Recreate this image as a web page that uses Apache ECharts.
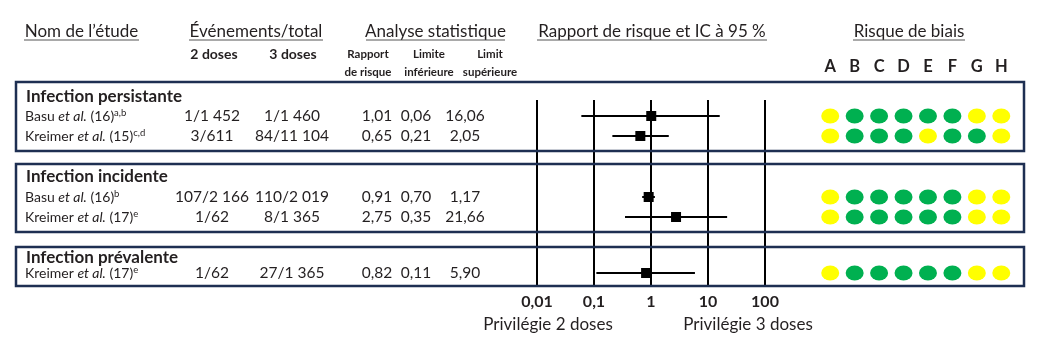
<!DOCTYPE html>
<html><head><meta charset="utf-8">
<script src="https://cdn.jsdelivr.net/npm/echarts@6/dist/echarts.min.js"></script>
<style>html,body{margin:0;padding:0;background:#fff}#c{width:1042px;height:340px}</style>
</head><body><div id="c"></div>
<script>
// ---------- DATA ----------
const groups = ['Infection persistante', 'Infection incidente', 'Infection prévalente'];
const studyGroup = [0, 0, 1, 1, 2];
const studyAuthor = ['Basu', 'Kreimer', 'Basu', 'Kreimer', 'Kreimer'];
const studyRef = ['(16)', '(15)', '(16)', '(17)', '(17)'];
const studyNote = ['a,b', 'c,d', 'b', 'e', 'e'];
const events2 = ['1/1 452', '3/611', '107/2 166', '1/62', '1/62'];
const events3 = ['1/1 460', '84/11 104', '110/2 019', '8/1 365', '27/1 365'];
const rr = [1.01, 0.65, 0.91, 2.75, 0.82];
const lower = [0.06, 0.21, 0.70, 0.35, 0.11];
const upper = [16.06, 2.05, 1.17, 21.66, 5.90];
const domains = ['A', 'B', 'C', 'D', 'E', 'F', 'G', 'H'];
const bias = [
  ['Y', 'G', 'G', 'G', 'G', 'G', 'Y', 'Y'],
  ['Y', 'G', 'G', 'G', 'Y', 'G', 'G', 'Y'],
  ['Y', 'G', 'G', 'G', 'G', 'G', 'Y', 'Y'],
  ['Y', 'G', 'G', 'G', 'G', 'G', 'Y', 'Y'],
  ['Y', 'G', 'G', 'G', 'G', 'G', 'Y', 'Y']
];
const tickValues = [0.01, 0.1, 1, 10, 100];
const tickLabels = ['0,01', '0,1', '1', '10', '100'];

// ---------- LAYOUT (positions only) ----------
const rowY = [116, 136, 197, 217, 273];
const groupY = [97, 177, 258];
const boxes = [[16, 82, 1008, 69], [16, 164, 1008, 68], [16, 247, 1008, 39]];
const PLOT_TOP = 100, PLOT_BOTTOM = 286;
const col = { name: 25, e2: 212, e3: 292, rr: 377, lo: 416, hi: 465 };
const TXT = '#231F20', NAVY = '#1E2F52';
const FONT = 'Lato, "Noto Sans", sans-serif';
const colorMap = { Y: '#FFFF00', G: '#00B050' };
const fmt = v => v.toFixed(2).replace('.', ',');

const chart = echarts.init(document.getElementById('c'), null, { renderer: 'canvas' });

const graphics = [];
// boxes
boxes.forEach(b => graphics.push({
  type: 'rect', shape: { x: b[0], y: b[1], width: b[2], height: b[3] }, z: 5,
  style: { fill: 'none', stroke: NAVY, lineWidth: 2.5 }
}));
// titles with underline
const titles = [
  ['Nom de l’étude', 24, 139], ['Événements/total', 189, 323], ['Analyse statistique', 366, 505],
  ['Rapport de risque et IC à 95 %', 537, 767], ['Risque de biais', 853, 965]
];
titles.forEach(t => {
  graphics.push({ type: 'text', x: (t[1] + t[2]) / 2, y: 32, style: { text: t[0], fill: TXT, font: '17px ' + FONT, textAlign: 'center', textVerticalAlign: 'middle' } });
  graphics.push({ type: 'line', shape: { x1: t[1], y1: 40, x2: t[2], y2: 40 }, style: { stroke: '#555', lineWidth: 1 } });
});
// sub headers
const sub = (txt, x, y, size) => graphics.push({ type: 'text', x, y, style: { text: txt, fill: TXT, font: 'bold ' + size + 'px ' + FONT, textAlign: 'center', textVerticalAlign: 'middle' } });
sub('2 doses', col.e2 + 2, 54, 14); sub('3 doses', col.e3 + 1, 54, 14);
sub('Rapport', 368, 54, 11.5); sub('de risque', 368, 72, 11.5);
sub('Limite', 429, 54, 11.5); sub('inférieure', 429, 72, 11.5);
sub('Limit', 490, 54, 11.5); sub('supérieure', 490, 72, 11.5);
// group headings
groups.forEach((g, i) => graphics.push({ type: 'text', x: col.name + 1, y: groupY[i], style: { text: g, fill: TXT, font: 'bold 17px ' + FONT, textVerticalAlign: 'middle' } }));
// study rows
rowY.forEach((y, i) => {
  graphics.push({ type: 'text', x: col.name, y, style: {
    text: '{n|' + studyAuthor[i] + ' }{i|et al.}{n| ' + studyRef[i] + '}{s|' + studyNote[i] + '}',
    textVerticalAlign: 'middle',
    rich: {
      n: { fill: TXT, font: '14px ' + FONT },
      i: { fill: TXT, font: 'italic 14px ' + FONT },
      s: { fill: TXT, font: '9.5px ' + FONT, padding: [0, 0, 7, 0] }
    }
  } });
  const cell = (txt, x) => graphics.push({ type: 'text', x, y, style: { text: txt, fill: TXT, font: '15.5px ' + FONT, textAlign: 'center', textVerticalAlign: 'middle' } });
  cell(events2[i], col.e2); cell(events3[i], col.e3);
  cell(fmt(rr[i]), col.rr); cell(fmt(lower[i]), col.lo); cell(fmt(upper[i]), col.hi);
});
// footer
graphics.push({ type: 'text', x: 548, y: 325, style: { text: 'Privilégie 2 doses', fill: TXT, font: '17px ' + FONT, textAlign: 'center', textVerticalAlign: 'middle' } });
graphics.push({ type: 'text', x: 748, y: 325, style: { text: 'Privilégie 3 doses', fill: TXT, font: '17px ' + FONT, textAlign: 'center', textVerticalAlign: 'middle' } });

// bias scatter data
const biasData = [];
bias.forEach((row, i) => row.forEach((c, j) => biasData.push({ value: [domains[j], rowY[i]], itemStyle: { color: colorMap[c] } })));

const option = {
  animation: false,
  textStyle: { fontFamily: FONT },
  grid: [
    { left: 537, width: 228, top: PLOT_TOP, height: PLOT_BOTTOM - PLOT_TOP },
    { left: 818, width: 195.5, top: PLOT_TOP, height: PLOT_BOTTOM - PLOT_TOP }
  ],
  xAxis: [
    { type: 'log', logBase: 10, min: 0.01, max: 100, gridIndex: 0,
      axisLine: { show: false }, axisTick: { show: false },
      splitLine: { show: true, lineStyle: { color: '#000', width: 2 } },
      axisLabel: { margin: 8, color: TXT, fontWeight: 'bold', fontSize: 16, fontFamily: FONT,
        formatter: v => { const k = tickValues.findIndex(t => Math.abs(t - v) < 1e-9); return k >= 0 ? tickLabels[k] : ''; } } },
    { type: 'category', data: domains, gridIndex: 1, position: 'top',
      axisLine: { show: false }, axisTick: { show: false }, splitLine: { show: false },
      axisLabel: { margin: 25, color: TXT, fontWeight: 'bold', fontSize: 16.5, fontFamily: FONT } }
  ],
  yAxis: [
    { type: 'value', min: PLOT_TOP, max: PLOT_BOTTOM, inverse: true, gridIndex: 0, show: false },
    { type: 'value', min: PLOT_TOP, max: PLOT_BOTTOM, inverse: true, gridIndex: 1, show: false }
  ],
  series: [
    { type: 'custom', xAxisIndex: 0, yAxisIndex: 0, z: 3,
      data: rr.map((v, i) => [lower[i], upper[i], rowY[i]]),
      renderItem: (params, api) => {
        const a = api.coord([api.value(0), api.value(2)]);
        const b = api.coord([api.value(1), api.value(2)]);
        return { type: 'line', shape: { x1: a[0], y1: a[1], x2: b[0], y2: b[1] }, style: { stroke: '#000', lineWidth: 2 } };
      } },
    { type: 'scatter', xAxisIndex: 0, yAxisIndex: 0, z: 4, symbol: 'rect', symbolSize: 10,
      itemStyle: { color: '#000', opacity: 1 }, data: rr.map((v, i) => [v, rowY[i]]) },
    { type: 'scatter', xAxisIndex: 1, yAxisIndex: 1, symbol: 'circle', symbolSize: [18, 15],
      itemStyle: { opacity: 1 }, data: biasData }
  ],
  graphic: graphics
};
chart.setOption(option);
</script></body></html>
